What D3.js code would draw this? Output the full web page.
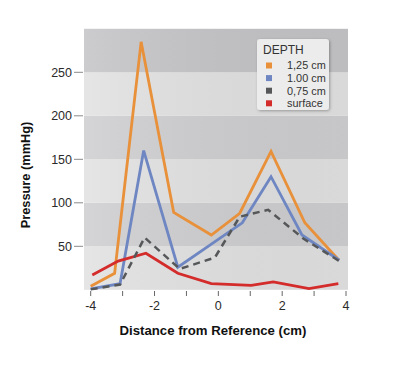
<!DOCTYPE html>
<html><head><meta charset="utf-8">
<script src="https://cdn.jsdelivr.net/npm/d3@7"></script>
<style>body{margin:0;background:#fff}svg{display:block}</style>
</head><body>
<script>
const seriesNames = ["1,25 cm", "1.00 cm", "0,75 cm", "surface"];
const seriesColors = ["#e8913a", "#6e86c2", "#555759", "#d42b2b"];
const orangeX = [-4, -3.25, -2.42, -1.40, -0.22, 0.67, 1.65, 2.71, 3.78];
const orangeY = [4, 19, 285, 89, 63, 88, 159, 77, 34];
const blueX = [-4, -3.08, -2.34, -1.27, 0.75, 1.65, 2.62, 3.79];
const blueY = [1, 7, 160, 26, 77, 130, 63, 34];
const greyX = [-4, -3.08, -2.31, -1.21, -0.11, 0.67, 1.56, 2.66, 3.79];
const greyY = [0.5, 6, 60, 24, 37, 84, 92, 59, 33];
const redX = [-3.95, -3.14, -2.27, -1.27, -0.22, 1.03, 1.72, 2.84, 3.76];
const redY = [17, 33, 42, 19, 7, 5, 9, 1.3, 7];
const xTicks = [-4, -3, -2, -1, 0, 1, 2, 3, 4];
const xLabels = [-4, -2, 0, 2, 4];
const yTicks = [50, 100, 150, 200, 250];
const bands = [0, 50, 100, 150, 200, 250];

const W = 400, H = 380;
const svg = d3.select("body").append("svg").attr("width", W).attr("height", H);
const x = d3.scaleLinear().domain([-4, 4]).range([90.7, 346]);
const y = d3.scaleLinear().domain([0, 300]).range([289.8, 28.8]);
const left = 84, right = 348;

const defs = svg.append("defs");
const gd = defs.append("linearGradient").attr("id", "shade").attr("x1", 0).attr("x2", 1).attr("y1", 0).attr("y2", 0);
gd.append("stop").attr("offset", 0).attr("stop-color", "#fff").attr("stop-opacity", 0.12);
gd.append("stop").attr("offset", 1).attr("stop-color", "#000").attr("stop-opacity", 0.04);
const sh = defs.append("filter").attr("id", "sh").attr("x", -0.2).attr("y", -0.2).attr("width", 1.4).attr("height", 1.4);
sh.append("feDropShadow").attr("dx", 1).attr("dy", 1).attr("stdDeviation", 1.5).attr("flood-opacity", 0.3);

// bands
svg.append("g").selectAll("rect").data(bands).join("rect")
  .attr("x", left).attr("width", right - left)
  .attr("y", d => y(d + 50)).attr("height", d => y(d) - y(d + 50))
  .attr("fill", (d, i) => i % 2 === 0 ? "#e2e2e3" : (d === 250 ? "#c5c5c8" : "#cfcfd1"));
svg.append("rect").attr("x", left).attr("width", right - left).attr("y", y(300)).attr("height", y(0) - y(300)).attr("fill", "url(#shade)");

// y ticks
const gy = svg.append("g");
gy.selectAll("line").data(yTicks).join("line")
  .attr("x1", 74).attr("x2", 83).attr("y1", d => y(d)).attr("y2", d => y(d))
  .attr("stroke", "#8a8a8a").attr("stroke-width", 1);
gy.selectAll("text").data(yTicks).join("text")
  .attr("x", 72).attr("y", d => y(d)).attr("dy", "0.35em").attr("text-anchor", "end")
  .attr("font-family", "Liberation Sans, Arial, sans-serif").attr("font-size", 12.5).attr("fill", "#2a2a2a")
  .text(d => d);

// x ticks
const gx = svg.append("g");
gx.selectAll("line").data(xTicks).join("line")
  .attr("x1", d => x(d)).attr("x2", d => x(d)).attr("y1", 291).attr("y2", 296)
  .attr("stroke", "#666").attr("stroke-width", 1);
gx.selectAll("text").data(xLabels).join("text")
  .attr("x", d => x(d)).attr("y", 306).attr("dy", "0.35em").attr("text-anchor", "middle")
  .attr("font-family", "Liberation Sans, Arial, sans-serif").attr("font-size", 12.5).attr("fill", "#2a2a2a")
  .text(d => d);

// titles
svg.append("text").attr("x", 213).attr("y", 330).attr("dy", "0.35em").attr("text-anchor", "middle")
  .attr("font-family", "Liberation Sans, Arial, sans-serif").attr("font-weight", "bold").attr("font-size", 13.2).attr("fill", "#111")
  .text("Distance from Reference (cm)");
svg.append("text").attr("transform", "translate(26,175) rotate(-90)").attr("dy", "0.35em").attr("text-anchor", "middle")
  .attr("font-family", "Liberation Sans, Arial, sans-serif").attr("font-weight", "bold").attr("font-size", 12.8).attr("fill", "#111")
  .text("Pressure (mmHg)");

// lines
const line = d3.line().x(d => x(d[0])).y(d => y(d[1]));
const series = [
  {xs: orangeX, ys: orangeY, c: seriesColors[0], dash: null, w: 2.8},
  {xs: blueX, ys: blueY, c: seriesColors[1], dash: null, w: 2.8},
  {xs: redX, ys: redY, c: seriesColors[3], dash: null, w: 2.8},
  {xs: greyX, ys: greyY, c: seriesColors[2], dash: "7,5", w: 2.5}
];
svg.append("g").selectAll("path").data(series).join("path")
  .attr("d", s => line(s.xs.map((v, i) => [v, s.ys[i]])))
  .attr("fill", "none").attr("stroke", s => s.c).attr("stroke-width", s => s.w)
  .attr("stroke-dasharray", s => s.dash).attr("stroke-linejoin", "miter");

// legend
const lg = svg.append("g");
lg.append("rect").attr("x", 257).attr("y", 39).attr("width", 72).attr("height", 71).attr("rx", 3)
  .attr("fill", "#ececec").attr("filter", "url(#sh)");
lg.append("text").attr("x", 263).attr("y", 50).attr("dy", "0.35em")
  .attr("font-family", "Liberation Sans, Arial, sans-serif").attr("font-size", 12).attr("fill", "#333").text("DEPTH");
const items = lg.selectAll("g.it").data(seriesNames).join("g").attr("class", "it")
  .attr("transform", (d, i) => `translate(0,${65.5 + i * 12.6})`);
items.append("rect").attr("x", 266).attr("y", -3).attr("width", 6).attr("height", 6).attr("fill", (d, i) => seriesColors[i]);
items.append("text").attr("x", 287).attr("dy", "0.35em")
  .attr("font-family", "Liberation Sans, Arial, sans-serif").attr("font-size", 10.9).attr("fill", "#333").text(d => d);
</script>
</body></html>
